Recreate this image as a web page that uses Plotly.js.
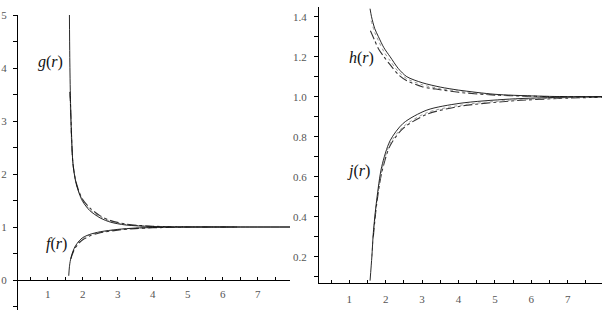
<!DOCTYPE html>
<html><head><meta charset="utf-8">
<script src="https://cdn.plot.ly/plotly-3.0.1.min.js"></script>
<style>html,body{margin:0;padding:0;background:#fff}#c{width:611px;height:316px}</style>
</head><body><div id="c"></div>
<script>
// g(r) curves (left panel, upper branch)
const gX1 = [1.62,1.63,1.65,1.68,1.72,1.8,1.9,2.0,2.2,2.5,2.8,3.2,3.6,4.0,5,6,7,7.92];
const gY1 = [5.0,4.2,3.4,2.75,2.2,1.85,1.63,1.48,1.31,1.17,1.09,1.04,1.02,1.01,1.0,1.0,1.0,1.0];
const gX2 = [1.63,1.65,1.68,1.72,1.8,1.9,2.0,2.2,2.5,2.8,3.2,3.6,4.0,5,6,6.4];
const gY2 = [3.55,3.3,2.7,2.2,1.87,1.66,1.52,1.36,1.21,1.12,1.06,1.03,1.015,1.0,1.0,1.0];
const gX3 = [1.64,1.66,1.7,1.75,1.85,2.0,2.2,2.5,2.8,3.2,3.6,4.0,5,6,6.4];
const gY3 = [3.5,2.9,2.4,2.05,1.74,1.5,1.33,1.19,1.11,1.05,1.025,1.01,1.0,1.0,1.0];
// f(r) curves (left panel, lower branch)
const fX1 = [1.6,1.62,1.65,1.7,1.78,1.9,2.0,2.2,2.5,3.0,3.5,4,5,6,7,7.92];
const fY1 = [0.08,0.25,0.38,0.5,0.63,0.74,0.8,0.86,0.91,0.955,0.98,0.99,1,1,1,1];
const fX2 = [1.66,1.7,1.78,1.9,2.0,2.2,2.5,3.0,3.5,4,5,6,6.4];
const fY2 = [0.4,0.48,0.6,0.7,0.76,0.83,0.89,0.94,0.97,0.985,1,1,1];
const fX3 = [1.7,1.78,1.9,2.0,2.2,2.5,3.0,3.5,4,5,6,6.4];
const fY3 = [0.5,0.62,0.72,0.78,0.85,0.9,0.95,0.975,0.99,1,1,1];
// h(r) curves (right panel, upper branch)
const hX1 = [1.57,1.61,1.7,1.8,1.95,2.12,2.35,2.58,3.0,3.5,4.0,5,6,7,7.94];
const hY1 = [1.44,1.4,1.34,1.3,1.245,1.2,1.14,1.1,1.07,1.048,1.033,1.012,1.004,1.0,1.0];
const hX2 = [1.6,1.7,1.8,1.95,2.12,2.35,2.58,3.0,3.5,4.0,5,6,7,7.94];
const hY2 = [1.38,1.32,1.28,1.225,1.18,1.125,1.09,1.06,1.04,1.027,1.01,1.003,1.0,1.0];
const hX3 = [1.58,1.7,1.8,1.95,2.12,2.35,2.58,3.0,3.5,4.0,5,6,7,7.94];
const hY3 = [1.33,1.28,1.24,1.2,1.16,1.11,1.08,1.05,1.035,1.022,1.008,1.002,1.0,1.0];
// j(r) curves (right panel, lower branch)
const jX1 = [1.57,1.62,1.66,1.75,1.89,2.12,2.48,3.13,4.04,5.4,7,7.94];
const jY1 = [0.08,0.2,0.32,0.48,0.65,0.78,0.867,0.933,0.967,0.988,0.998,1.0];
const jX2 = [1.62,1.66,1.75,1.89,2.12,2.48,3.13,4.04,5.4,7,7.94];
const jY2 = [0.2,0.31,0.47,0.63,0.765,0.85,0.92,0.957,0.982,0.995,0.998];
const jX3 = [1.66,1.75,1.89,2.12,2.48,3.13,4.04,5.4,7,7.94];
const jY3 = [0.3,0.46,0.62,0.755,0.842,0.912,0.952,0.978,0.993,0.997];

const styles = [
  {color:'#111', width:0.9, dash:'solid'},
  {color:'#333', width:1.1, dash:'dashdot'},
  {color:'#999', width:1, dash:'dot'}
];
function tr(x,y,s,ax){return {x:x,y:y,mode:'lines',type:'scatter',line:Object.assign({shape:'spline',smoothing:0.8},styles[s]),xaxis:ax[0],yaxis:ax[1],hoverinfo:'skip',showlegend:false};}
const L=['x','y'], R=['x2','y2'];
const data=[
  tr(gX3,gY3,2,L),tr(gX2,gY2,1,L),tr(gX1,gY1,0,L),
  tr(fX3,fY3,2,L),tr(fX2,fY2,1,L),tr(fX1,fY1,0,L),
  tr(hX3,hY3,1,R),tr(hX2,hY2,2,R),tr(hX1,hY1,0,R),
  tr(jX3,jY3,1,R),tr(jX2,jY2,2,R),tr(jX1,jY1,0,R)
];
const W=611,H=316;
const SERIF="'Liberation Serif', 'Times New Roman', Times, serif";
const tf={family:SERIF,size:11,color:'#555'};
const common={showgrid:false,zeroline:false,showline:true,linecolor:'#000',linewidth:1,tickfont:tf,tickcolor:'#000',tickwidth:1,fixedrange:true};
const layout={
  width:W,height:H,margin:{l:0,r:0,t:0,b:0},paper_bgcolor:'#fff',plot_bgcolor:'#fff',
  font:{family:SERIF},
  xaxis:Object.assign({},common,{domain:[18/W,290/W],range:[0.151,7.92],anchor:'free',position:1-280/H,dtick:1,tick0:0,ticks:'inside',ticklen:3,ticklabelstandoff:4,minor:{dtick:0.5,ticks:'inside',ticklen:3,tickcolor:'#000'}}),
  yaxis:Object.assign({},common,{domain:[1-310/H,1-15/H],range:[-0.566,5.0],anchor:'x',dtick:1,tick0:0,ticks:'outside',ticklen:4,ticklabelstandoff:4,minor:{dtick:0.5,ticks:'outside',ticklen:4,tickcolor:'#000'}}),
  xaxis2:Object.assign({},common,{domain:[319/W,602/W],range:[0.168,7.94],anchor:'y2',dtick:1,tick0:0,ticks:'inside',ticklen:3,ticklabelstandoff:5,minor:{dtick:0.5,ticks:'inside',ticklen:3,tickcolor:'#000'}}),
  yaxis2:Object.assign({},common,{domain:[1-283.3/H,1-6.7/H],range:[0.067,1.45],anchor:'x2',dtick:0.2,tick0:0,tickformat:'.1f',ticks:'outside',ticklen:4,ticklabelstandoff:5,minor:{dtick:0.1,ticks:'outside',ticklen:4,tickcolor:'#000'}}),
  annotations:[
    {text:'<i>g</i>(<i>r</i>)',x:1.08,y:4.12,xref:'x',yref:'y'},
    {text:'<i>f</i>(<i>r</i>)',x:1.24,y:0.68,xref:'x',yref:'y'},
    {text:'<i>h</i>(<i>r</i>)',x:1.34,y:1.196,xref:'x2',yref:'y2'},
    {text:'<i>j</i>(<i>r</i>)',x:1.26,y:0.628,xref:'x2',yref:'y2'}
  ].map(a=>Object.assign(a,{showarrow:false,font:{family:SERIF,size:16,color:'#111'}}))
};
Plotly.newPlot('c',data,layout,{displayModeBar:false,staticPlot:true});
</script></body></html>
